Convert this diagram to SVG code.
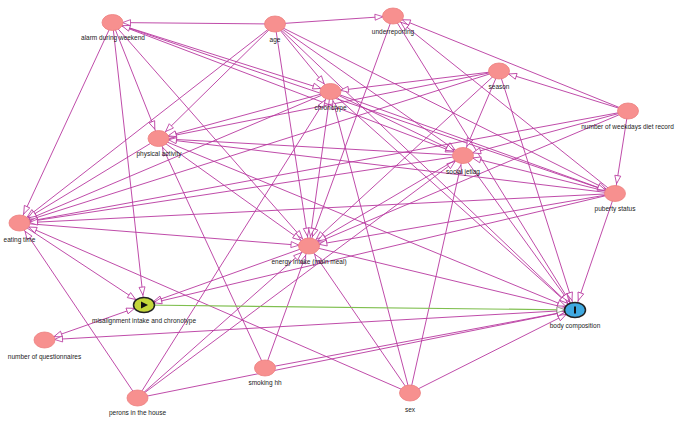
<svg xmlns="http://www.w3.org/2000/svg" width="676" height="422" viewBox="0 0 676 422">
<defs>
<marker id="ah" markerUnits="userSpaceOnUse" markerWidth="8" markerHeight="6" refX="18" refY="3" orient="auto-start-reverse" overflow="visible">
<path d="M0,0 L8,3 L0,6 Z" fill="#fff" stroke="#b8389f" stroke-width="0.8"/>
</marker>
<marker id="ahg" markerUnits="userSpaceOnUse" markerWidth="8" markerHeight="6" refX="18" refY="3" orient="auto" overflow="visible">
<path d="M0,0 L8,3 L0,6 Z" fill="#fff" stroke="#8a9a80" stroke-width="0.8"/>
</marker>
</defs>
<style>
.e{stroke:#b8389f;stroke-width:0.9;fill:none;marker-end:url(#ah)}
.g{stroke:#7fbf4f;stroke-width:1.2;fill:none;marker-end:url(#ahg)}
.n{fill:#f7908f;stroke:#ec8080;stroke-width:0.8}
.t{font-family:"Liberation Sans",Arial,sans-serif;font-size:6.5px;fill:#222;text-anchor:middle}
</style>
<rect width="676" height="422" fill="#fff"/>
<g id="connectors">
<path class="e" d="M275,24 L112.5,22.5"/>
<path class="e" d="M275,24 L393,16"/>
<path class="e" d="M275,24 L330.5,91.5"/>
<path class="e" d="M275,24 L158.5,138.5"/>
<path class="e" d="M275,24 L19.5,223"/>
<path class="e" d="M275,24 L309,246"/>
<path class="e" d="M275,24 L463,155.5"/>
<path class="e" d="M275,24 L615,193.5"/>
<path class="e" d="M275,24 L575,310"/>
<path class="e" d="M112.5,22.5 L19.5,223"/>
<path class="e" d="M112.5,22.5 L144,305"/>
<path class="e" d="M112.5,22.5 L158.5,138.5"/>
<path class="e" d="M112.5,22.5 L309,246"/>
<path class="e" d="M112.5,22.5 L330.5,91.5"/>
<path class="e" d="M112.5,22.5 L463,155.5"/>
<path class="e" d="M615,193.5 L112.5,22.5"/>
<path class="e" d="M628,111 L393,16"/>
<path class="e" d="M615,193.5 L393,16"/>
<path class="e" d="M393,16 L309,246"/>
<path class="e" d="M393,16 L575,310"/>
<path class="e" d="M499,71 L330.5,91.5"/>
<path class="e" d="M499,71 L158.5,138.5"/>
<path class="e" d="M499,71 L19.5,223"/>
<path class="e" d="M499,71 L463,155.5"/>
<path class="e" d="M499,71 L309,246"/>
<path class="e" d="M499,71 L575,310"/>
<path class="e" d="M628,111 L499,71"/>
<path class="e" d="M628,111 L615,193.5"/>
<path class="e" d="M628,111 L463,155.5"/>
<path class="e" d="M628,111 L309,246"/>
<path class="e" d="M628,111 L19.5,223"/>
<path class="e" d="M330.5,91.5 L19.5,223"/>
<path class="e" d="M330.5,91.5 L158.5,138.5"/>
<path class="e" d="M330.5,91.5 L309,246"/>
<path class="e" d="M330.5,91.5 L463,155.5"/>
<path class="e" d="M330.5,91.5 L615,193.5"/>
<path class="e" d="M330.5,91.5 L575,310"/>
<path class="e" d="M410,393 L330.5,91.5"/>
<path class="e" d="M410,393 L463,155.5"/>
<path class="e" d="M410,393 L309,246"/>
<path class="e" d="M410,393 L575,310"/>
<path class="e" d="M410,393 L19.5,223"/>
<path class="e" d="M137.5,398 L330.5,91.5"/>
<path class="e" d="M137.5,398 L309,246"/>
<path class="e" d="M137.5,398 L463,155.5"/>
<path class="e" d="M137.5,398 L575,310"/>
<path class="e" d="M137.5,398 L19.5,223"/>
<path class="e" d="M265,368 L158.5,138.5"/>
<path class="e" d="M265,368 L309,246"/>
<path class="e" d="M265,368 L575,310"/>
<path class="e" d="M19.5,223 L309,246"/>
<path class="e" d="M19.5,223 L144,305"/>
<path class="e" d="M309,246 L144,305"/>
<path class="e" d="M309,246 L575,310"/>
<path class="e" d="M463,155.5 L19.5,223"/>
<path class="e" d="M463,155.5 L158.5,138.5"/>
<path class="e" d="M463,155.5 L309,246"/>
<path class="e" d="M463,155.5 L575,310"/>
<path class="e" d="M615,193.5 L19.5,223"/>
<path class="e" d="M615,193.5 L158.5,138.5"/>
<path class="e" d="M615,193.5 L309,246"/>
<path class="e" d="M615,193.5 L463,155.5"/>
<path class="e" d="M615,193.5 L575,310"/>
<path class="e" d="M615,193.5 L144,305"/>
<path class="e" d="M158.5,138.5 L19.5,223"/>
<path class="e" d="M158.5,138.5 L309,246"/>
<path class="e" d="M158.5,138.5 L575,310"/>
<path class="e" d="M44.5,340 L144,305" style="marker-start:url(#ah)"/>
<path class="e" d="M575,310 L44.5,340"/>
<path class="g" d="M144,305 L575,310"/>
</g>
<g id="alarm"><ellipse class="n" cx="112.5" cy="22.5" rx="10.5" ry="8"/><text class="t" x="113" y="40">alarm during weekend</text></g>
<g id="age"><ellipse class="n" cx="275" cy="24" rx="10.5" ry="8"/><text class="t" x="275" y="41.5">age</text></g>
<g id="underreporting"><ellipse class="n" cx="393" cy="16" rx="10.5" ry="8"/><text class="t" x="393" y="34">underreporting</text></g>
<g id="season"><ellipse class="n" cx="499" cy="71" rx="10.5" ry="8"/><text class="t" x="499" y="89">season</text></g>
<g id="weekdays"><ellipse class="n" cx="628" cy="111" rx="10.5" ry="8"/><text class="t" x="627.5" y="128.5">number of weekdays diet record</text></g>
<g id="chronotype"><ellipse class="n" cx="330.5" cy="91.5" rx="10.5" ry="8"/><text class="t" x="330.5" y="109.5">chronotype</text></g>
<g id="physical"><ellipse class="n" cx="158.5" cy="138.5" rx="10.5" ry="8"/><text class="t" x="159" y="155.5">physical activity</text></g>
<g id="jetlag"><ellipse class="n" cx="463" cy="155.5" rx="10.5" ry="8"/><text class="t" x="463" y="174">social jetlag</text></g>
<g id="puberty"><ellipse class="n" cx="615" cy="193.5" rx="10.5" ry="8"/><text class="t" x="615" y="211">puberty status</text></g>
<g id="eating"><ellipse class="n" cx="19.5" cy="223" rx="10.5" ry="8"/><text class="t" x="19.5" y="241.5">eating time</text></g>
<g id="energy"><ellipse class="n" cx="309" cy="246" rx="10.5" ry="8"/><text class="t" x="309" y="264">energy intake (main meal)</text></g>
<g id="misalignment"><ellipse cx="144" cy="305" rx="10.5" ry="7.5" fill="#c3d73a" stroke="#222" stroke-width="1.5"/><polygon points="141,301.5 148,305 141,308.5" fill="#111"/><text class="t" x="144" y="322.5">misalignment intake and chronotype</text></g>
<g id="questionnaires"><ellipse class="n" cx="44.5" cy="340" rx="10.5" ry="8"/><text class="t" x="44.5" y="358.5">number of questionnaires</text></g>
<g id="smoking"><ellipse class="n" cx="265" cy="368" rx="10.5" ry="8"/><text class="t" x="265" y="385">smoking hh</text></g>
<g id="perons"><ellipse class="n" cx="137.5" cy="398" rx="10.5" ry="8"/><text class="t" x="137.5" y="414.5">perons in the house</text></g>
<g id="sex"><ellipse class="n" cx="410" cy="393" rx="10.5" ry="8"/><text class="t" x="410" y="411.5">sex</text></g>
<g id="body"><ellipse cx="575" cy="310" rx="10.5" ry="7.5" fill="#3fa9e0" stroke="#222" stroke-width="1.5"/><rect x="574" y="306.5" width="2" height="7" fill="#111"/><text class="t" x="575" y="328">body composition</text></g>
</svg>
